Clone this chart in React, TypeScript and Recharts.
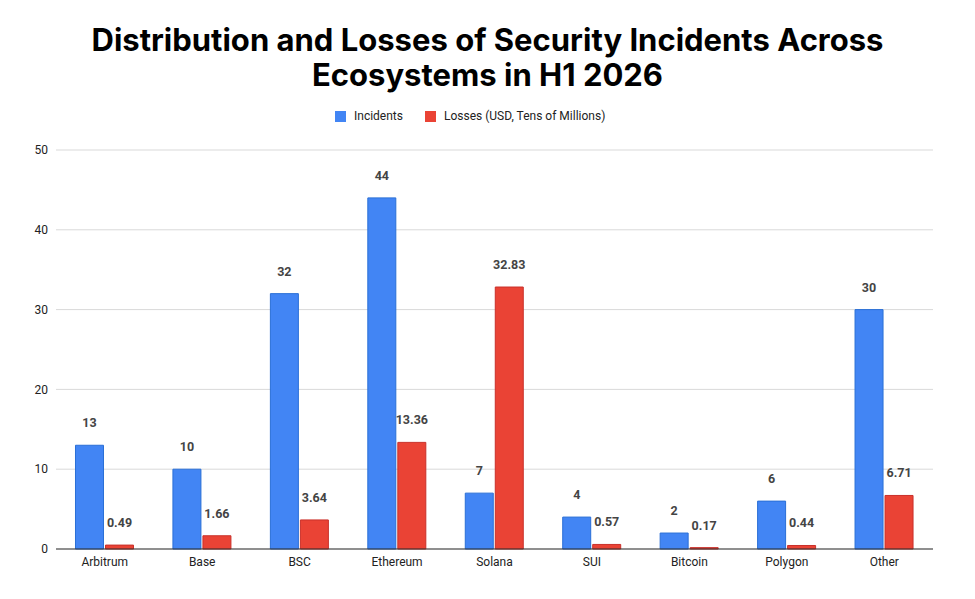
import { Bar, BarChart, CartesianGrid, LabelList, XAxis, YAxis } from 'recharts';

const ecosystems = ['Arbitrum', 'Base', 'BSC', 'Ethereum', 'Solana', 'SUI', 'Bitcoin', 'Polygon', 'Other'];
const incidents = [13, 10, 32, 44, 7, 4, 2, 6, 30];
const losses = [0.49, 1.66, 3.64, 13.36, 32.83, 0.57, 0.17, 0.44, 6.71];
const yTicks = [0, 10, 20, 30, 40, 50];

const font = 'Roboto, Arial, sans-serif';

export default function App() {
  const data = ecosystems.map((name, i) => ({ name, incidents: incidents[i], losses: losses[i] }));
  return (
    <div style={{ position: 'absolute', left: 0, top: 0, width: 975, height: 599, background: '#fff', fontFamily: font }}>
      <div style={{ position: 'absolute', top: 22, width: 975, textAlign: 'center', fontSize: 31, fontWeight: 700, lineHeight: '35px', color: '#000', fontFamily: 'Inter, Roboto, Arial, sans-serif' }}>
        Distribution and Losses of Security Incidents Across
        <br />
        Ecosystems in H1 2026
      </div>
      <div style={{ position: 'absolute', top: 109, left: 335, display: 'flex', alignItems: 'center', fontSize: 12, color: '#222' }}>
        <span style={{ width: 11, height: 11, background: '#4285f4', display: 'inline-block', marginRight: 8 }} />
        <span style={{ marginRight: 22 }}>Incidents</span>
        <span style={{ width: 11, height: 11, background: '#ea4335', display: 'inline-block', marginRight: 8 }} />
        <span>Losses (USD, Tens of Millions)</span>
      </div>
      <BarChart
        width={975}
        height={599}
        data={data}
        margin={{ top: 150, right: 42, bottom: 20, left: 16 }}
        barCategoryGap="20%"
        barGap={2}
      >
        <CartesianGrid vertical={false} stroke="#d9d9d9" />
        <XAxis dataKey="name" tickLine={false} axisLine={{ stroke: '#333' }} tick={{ fill: '#222', fontSize: 12, fontFamily: font }} />
        <YAxis width={40} domain={[0, 50]} ticks={yTicks} axisLine={false} tickLine={false} tick={{ fill: '#222', fontSize: 12, fontFamily: font }} />
        <Bar dataKey="incidents" fill="#4285f4" stroke="#2a6fd6" strokeWidth={1} isAnimationActive={false}>
          <LabelList dataKey="incidents" position="top" offset={18} style={{ fill: '#444', fontSize: 12.5, fontWeight: 700, fontFamily: font }} />
        </Bar>
        <Bar dataKey="losses" fill="#ea4335" stroke="#c9302a" strokeWidth={1} isAnimationActive={false}>
          <LabelList dataKey="losses" position="top" offset={18} style={{ fill: '#444', fontSize: 12.5, fontWeight: 700, fontFamily: font }} />
        </Bar>
      </BarChart>
    </div>
  );
}
